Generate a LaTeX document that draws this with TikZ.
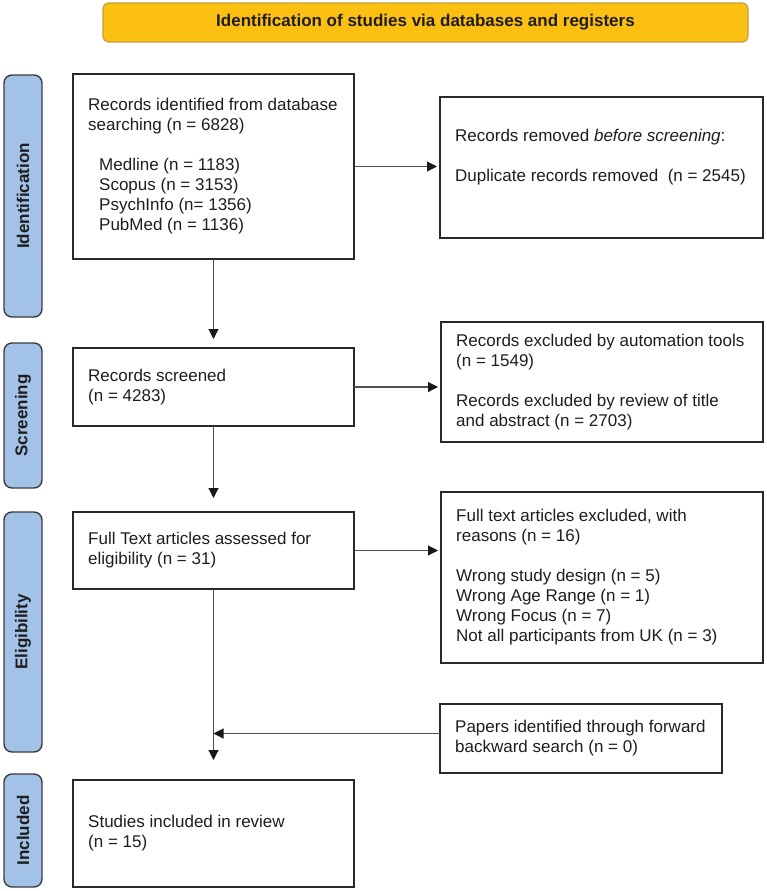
\documentclass[tikz,border=0pt]{standalone}
\usepackage{fontspec}
\setmainfont{Liberation Sans}
\usetikzlibrary{arrows.meta,calc}
\definecolor{bannerfill}{RGB}{252,192,18}
\definecolor{bannerdraw}{RGB}{196,158,62}
\definecolor{sidefill}{RGB}{163,194,232}
\definecolor{sidedraw}{RGB}{60,60,60}
\definecolor{boxdraw}{RGB}{40,40,40}
\definecolor{arrowcol}{RGB}{80,80,80}
\definecolor{headcol}{RGB}{25,25,25}
\definecolor{txtcol}{RGB}{30,30,30}
\begin{document}
\begin{tikzpicture}[x=1pt,y=-1pt,
  box/.style={draw=boxdraw, line width=1.6pt, fill=white, rectangle, inner sep=0pt, outer sep=0pt, anchor=north west},
  txt/.style={font=\fontsize{17}{20}\selectfont, text=txtcol, align=left, inner sep=0pt, anchor=west},
  side/.style={draw=sidedraw, line width=1.4pt, fill=sidefill, rounded corners=8pt, inner sep=0pt, outer sep=0pt, anchor=north west, minimum width=38pt},
  sidetxt/.style={font=\bfseries\fontsize{17}{19}\selectfont, rotate=90, text=txtcol},
  flow/.style={draw=arrowcol, line width=1.1pt, -{Triangle[length=10pt,width=10pt,color=headcol]}},
]
\useasboundingbox (0,0) rectangle (766,891);

% banner
\node[draw=bannerdraw, fill=bannerfill, line width=1.2pt, rounded corners=6pt,
  minimum width=645pt, minimum height=39pt, anchor=north west, inner sep=0pt, outer sep=0pt,
  text=txtcol, font=\bfseries\fontsize{17}{20}\selectfont] (banner) at (103,3)
  {Identification of studies via databases and registers};

% side bars
\node[side, minimum height=242pt] (sid) at (4,75) {};
\node[sidetxt] (sidt) at (sid.center) {Identification};
\node[side, minimum height=145pt] (sscr) at (4,343) {};
\node[sidetxt] (sscrt) at (sscr.center) {Screening};
\node[side, minimum height=240pt] (selg) at (4,512) {};
\node[sidetxt] (selgt) at (selg.center) {Eligibility};
\node[side, minimum height=113pt] (sinc) at (4,774) {};
\node[sidetxt] (sinct) at (sinc.center) {Included};

% main boxes
\node[box, minimum width=281pt, minimum height=185pt] (b1) at (73,74) {};
\node[txt] (b1t) at ([xshift=15pt]b1.west) {Records identified from database\\
searching (n = 6828)\\[20pt]
\hspace*{11pt}Medline (n = 1183)\\
\hspace*{11pt}Scopus (n = 3153)\\
\hspace*{11pt}PsychInfo (n= 1356)\\
\hspace*{11pt}PubMed (n = 1136)};

\node[box, minimum width=281pt, minimum height=78pt] (b2) at (73,348) {};
\node[txt] (b2t) at ([xshift=15pt]b2.west) {Records screened\\(n = 4283)};

\node[box, minimum width=281pt, minimum height=77pt] (b3) at (73,512) {};
\node[txt] (b3t) at ([xshift=15pt]b3.west) {Full Text articles assessed for\\eligibility (n = 31)};

\node[box, minimum width=281pt, minimum height=107pt] (b4) at (73,780) {};
\node[txt] (b4t) at ([xshift=15pt]b4.west) {Studies included in review\\(n = 15)};

% right boxes
\node[box, minimum width=323pt, minimum height=141pt] (rb1) at (440,97) {};
\node[txt] (rb1t) at ([xshift=15pt,yshift=10pt]rb1.west) {Records removed \textit{before screening}:\\[20pt]
Duplicate records removed\ \ (n = 2545)};

\node[box, minimum width=322pt, minimum height=120pt] (rb2) at (441,322) {};
\node[txt] (rb2t) at ([xshift=15pt]rb2.west) {Records excluded by automation tools\\
(n = 1549)\\[20pt]
Records excluded by review of title\\
and abstract (n = 2703)};

\node[box, minimum width=322pt, minimum height=171pt] (rb3) at (441,492) {};
\node[txt] (rb3t) at ([xshift=15pt]rb3.west) {Full text articles excluded, with\\
reasons (n = 16)\\[20pt]
Wrong study design (n = 5)\\
Wrong Age Range (n = 1)\\
Wrong Focus (n = 7)\\
Not all participants from UK (n = 3)};

\node[box, minimum width=282pt, minimum height=69pt] (pp) at (440,704) {};
\node[txt] (ppt) at ([xshift=15pt]pp.west) {Papers identified through forward\\backward search (n = 0)};

% connectors
\draw[flow, shorten >=9pt] (b1.south) -- (b2.north);
\draw[flow, shorten >=14pt] (b2.south) -- (b3.north);
\draw[flow, shorten >=20pt] (b3.south) -- (b4.north);
\draw[flow, shorten >=3pt] (b1.east) -- (b1.east -| rb1.west);
\draw[flow, shorten >=3pt] (b2.east) -- (b2.east -| rb2.west);
\draw[flow, shorten >=3pt] (b3.east) -- (b3.east -| rb3.west);
\coordinate (jn) at (b3.south |- pp.west);
\draw[flow] ([yshift=5pt]pp.west) -- ([yshift=5pt]jn);
\end{tikzpicture}
\end{document}
